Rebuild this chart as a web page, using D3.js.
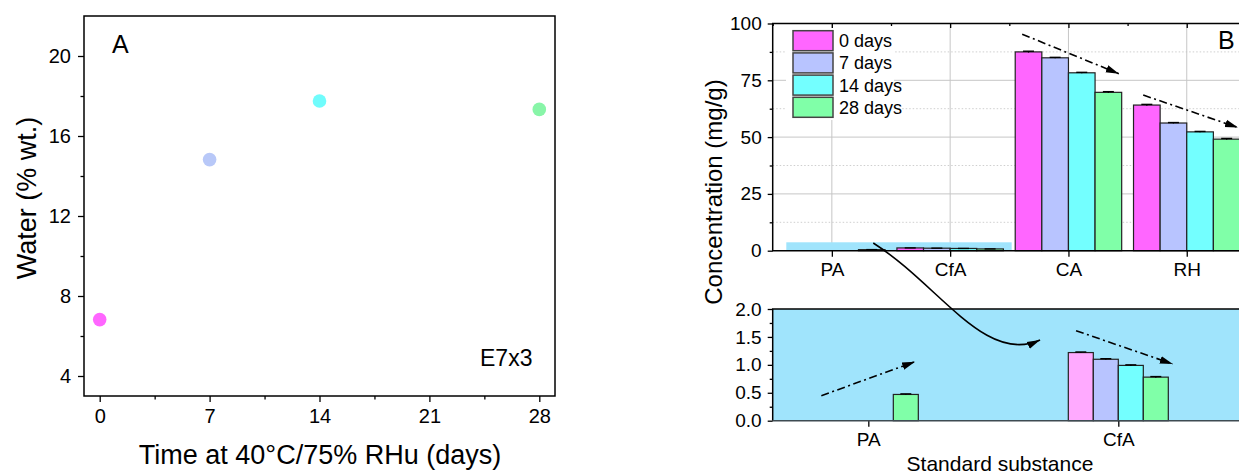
<!DOCTYPE html>
<html>
<head>
<meta charset="utf-8">
<script src="https://cdn.jsdelivr.net/npm/d3@7"></script>
<style>
  body { margin: 0; background: #fff; }
  svg { display: block; font-family: Arial, "Liberation Sans", sans-serif; }
</style>
</head>
<body>
<div id="chart"></div>
<script>
// panel A data
const days = [0, 7, 14, 28];
const water = [6.82, 14.82, 17.75, 17.33];
const dayColors = ["#ff66ff", "#b8c8f8", "#70fcfc", "#88f5a8"];

// panel B data
const substances = ["PA", "CfA", "CA", "RH"];
const seriesNames = ["0 days", "7 days", "14 days", "28 days"];
const conc0 = [null, 1.22, 87.5, 64.1];
const conc7 = [null, 1.10, 84.9, 56.2];
const conc14 = [null, 0.99, 78.3, 52.3];
const conc28 = [0.47, 0.78, 69.7, 49.1];
const err0 = [0, 0.01, 0.3, 0.3];
const err7 = [0, 0.01, 0.2, 0.2];
const err14 = [0, 0.01, 0.2, 0.2];
const err28 = [0.01, 0.01, 0.3, 0.3];
const barColors = ["#ff66ff", "#b8c4ff", "#73ffff", "#80ffa8"];
const insetColors = ["#ffaaff", "#b8c4ff", "#73ffff", "#80ffa8"];
const insetSubstances = ["PA", "CfA"];

const width = 1239;
const height = 475;

const svg = d3
  .select("#chart")
  .append("svg")
  .attr("width", width)
  .attr("height", height);

const defs = svg.append("defs");
defs
  .append("marker")
  .attr("id", "head")
  .attr("viewBox", "0 -5 14 10")
  .attr("refX", 13)
  .attr("refY", 0)
  .attr("markerUnits", "userSpaceOnUse")
  .attr("markerWidth", 14)
  .attr("markerHeight", 10)
  .attr("orient", "auto")
  .append("path")
  .attr("d", "M0,-3.8L13,0L0,3.8Z")
  .attr("fill", "#000");

const styleAxis = (g, size) => {
  g.selectAll("line").attr("stroke", "#000").attr("stroke-width", 1.3);
  g.selectAll("text").attr("fill", "#000").style("font-size", size + "px");
  g.select(".domain").remove();
};

/////////////
// Panel A //
/////////////
const xA = d3.scaleLinear().domain([-1, 29]).range([84, 555]);
const yA = d3.scaleLinear().domain([3, 22]).range([396, 16]);

const gA = svg.append("g");

gA.append("g")
  .attr("transform", "translate(0,396)")
  .call(d3.axisBottom(xA).tickValues([0, 7, 14, 21, 28]).tickSize(6).tickPadding(7))
  .call((g) => styleAxis(g, 20));
gA.append("g")
  .attr("transform", "translate(0,396)")
  .call(d3.axisBottom(xA).tickValues([3.5, 10.5, 17.5, 24.5]).tickSize(3.5).tickFormat(""))
  .call((g) => styleAxis(g, 20));
gA.append("g")
  .attr("transform", "translate(84,0)")
  .call(d3.axisLeft(yA).tickValues([4, 8, 12, 16, 20]).tickSize(6).tickPadding(7))
  .call((g) => styleAxis(g, 20));
gA.append("g")
  .attr("transform", "translate(84,0)")
  .call(d3.axisLeft(yA).tickValues([6, 10, 14, 18]).tickSize(3.5).tickFormat(""))
  .call((g) => styleAxis(g, 20));

gA.append("rect")
  .attr("x", xA(-1))
  .attr("y", yA(22))
  .attr("width", xA(29) - xA(-1))
  .attr("height", yA(3) - yA(22))
  .attr("fill", "none")
  .attr("stroke", "#000")
  .attr("stroke-width", 1.5);

gA.selectAll("circle")
  .data(days)
  .join("circle")
  .attr("cx", (d) => xA(d))
  .attr("cy", (d, i) => yA(water[i]))
  .attr("r", 6.8)
  .attr("fill", (d, i) => dayColors[i]);

gA.append("text").attr("x", 112).attr("y", 53).style("font-size", "25px").text("A");
gA.append("text").attr("x", 480).attr("y", 366).style("font-size", "23px").text("E7x3");
gA.append("text")
  .attr("x", 320)
  .attr("y", 464)
  .attr("text-anchor", "middle")
  .style("font-size", "27px")
  .text("Time at 40°C/75% RHu (days)");
gA.append("text")
  .attr("transform", "translate(36,198) rotate(-90)")
  .attr("text-anchor", "middle")
  .style("font-size", "27px")
  .text("Water (% wt.)");

/////////////////
// Panel B top //
/////////////////
const xT = d3.scaleLinear().domain([-0.5, 3.5]).range([772.7, 1245.9]);
const yT = d3.scaleLinear().domain([0, 100]).range([250.7, 23.5]);

const gT = svg.append("g");

// grid
gT.append("g")
  .selectAll("line")
  .data([25, 50, 75])
  .join("line")
  .attr("x1", xT(-0.5)).attr("x2", xT(3.5))
  .attr("y1", (d) => yT(d)).attr("y2", (d) => yT(d))
  .attr("stroke", "#c6c6c6");
gT.append("g")
  .selectAll("line")
  .data([12.5, 37.5, 62.5, 87.5])
  .join("line")
  .attr("x1", xT(-0.5)).attr("x2", xT(3.5))
  .attr("y1", (d) => yT(d)).attr("y2", (d) => yT(d))
  .attr("stroke", "#cfcfcf")
  .attr("stroke-dasharray", "1.5,2");
gT.append("g")
  .selectAll("line")
  .data([0, 1, 2, 3])
  .join("line")
  .attr("x1", (d) => xT(d)).attr("x2", (d) => xT(d))
  .attr("y1", yT(0)).attr("y2", yT(100))
  .attr("stroke", "#c6c6c6");

// zoomed region
gT.append("rect")
  .attr("x", xT(-0.385))
  .attr("y", yT(3.7))
  .attr("width", xT(1.52) - xT(-0.385))
  .attr("height", yT(0) - yT(3.7))
  .attr("fill", "#a0e4fc");

const series = [conc0, conc7, conc14, conc28];
const errs = [err0, err7, err14, err28];

const drawBars = (g, xs, ys, cats, colors, barW) => {
  series.forEach((vals, s) => {
    const rows = cats
      .map((c) => substances.indexOf(c))
      .map((k, i) => ({ i, v: vals[k], e: errs[s][k] }))
      .filter((d) => d.v != null);
    const bx = (d) => xs(d.i + (s - 2) * barW);
    g.append("g")
      .selectAll("rect")
      .data(rows)
      .join("rect")
      .attr("x", bx)
      .attr("y", (d) => ys(d.v))
      .attr("width", (d) => xs(d.i + barW) - xs(d.i))
      .attr("height", (d) => ys(0) - ys(d.v))
      .attr("fill", colors[s])
      .attr("stroke", "#222")
      .attr("stroke-width", 1.2);
    const cap = g.append("g").selectAll("g").data(rows).join("g");
    const cx = (d) => xs(d.i + (s - 1.5) * barW);
    cap.append("line")
      .attr("x1", (d) => cx(d) - 5.5).attr("x2", (d) => cx(d) + 5.5)
      .attr("y1", (d) => ys(d.v + d.e)).attr("y2", (d) => ys(d.v + d.e))
      .attr("stroke", "#000").attr("stroke-width", 1.4);
    cap.append("line")
      .attr("x1", cx).attr("x2", cx)
      .attr("y1", (d) => ys(d.v + d.e)).attr("y2", (d) => ys(d.v - d.e))
      .attr("stroke", "#000").attr("stroke-width", 1.2);
  });
};

drawBars(gT, xT, yT, substances, barColors, 0.225);

// legend
const legend = gT.append("g");
legend.append("rect")
  .attr("x", 786).attr("y", 28).attr("width", 108).attr("height", 92)
  .attr("fill", "#fff");
const li = legend.selectAll("g.item").data(seriesNames).join("g")
  .attr("class", "item")
  .attr("transform", (d, i) => `translate(793,${30.7 + i * 22.2})`);
li.append("rect")
  .attr("width", 40).attr("height", 20)
  .attr("fill", (d, i) => barColors[i])
  .attr("stroke", "#444").attr("stroke-width", 1.5);
li.append("text")
  .attr("x", 46).attr("y", 16.5)
  .style("font-size", "18px")
  .text((d) => d);

// axes
gT.append("g")
  .attr("transform", `translate(0,${yT(0)})`)
  .call(d3.axisBottom(xT).tickValues([0, 1, 2, 3]).tickFormat((i) => substances[i]).tickSize(6).tickPadding(6))
  .call((g) => styleAxis(g, 19));
gT.append("g")
  .attr("transform", `translate(0,${yT(100)})`)
  .call(d3.axisTop(xT).tickValues([0, 1, 2, 3]).tickSize(-4.5).tickFormat(""))
  .call((g) => styleAxis(g, 19));
gT.append("g")
  .attr("transform", `translate(0,${yT(100)})`)
  .call(d3.axisTop(xT).tickValues([-0.5, 0.5, 1.5, 2.5]).tickSize(-2.5).tickFormat(""))
  .call((g) => styleAxis(g, 19));
gT.append("g")
  .attr("transform", `translate(${xT(-0.5)},0)`)
  .call(d3.axisLeft(yT).tickValues([0, 25, 50, 75, 100]).tickSize(5).tickPadding(6))
  .call((g) => styleAxis(g, 19));
gT.append("g")
  .attr("transform", `translate(${xT(-0.5)},0)`)
  .call(d3.axisLeft(yT).tickValues([12.5, 37.5, 62.5, 87.5]).tickSize(3).tickFormat(""))
  .call((g) => styleAxis(g, 19));
gT.append("path")
  .attr("d", `M${xT(3.5)},${yT(100)}H${xT(-0.5)}V${yT(0)}H${xT(3.5)}`)
  .attr("fill", "none").attr("stroke", "#000").attr("stroke-width", 1.5);

gT.append("text").attr("x", 1218).attr("y", 49).style("font-size", "25px").text("B");

////////////////////
// Panel B bottom //
////////////////////
const xB = d3.scaleLinear().domain([-0.3825, 1.5]).range([772.7, 1243.3]);
const yB = d3.scaleLinear().domain([0, 2]).range([420.7, 309]);

const gB = svg.append("g");
gB.append("rect")
  .attr("x", xB(-0.3825)).attr("y", yB(2))
  .attr("width", xB(1.5) - xB(-0.3825)).attr("height", yB(0) - yB(2))
  .attr("fill", "#a0e4fc");

drawBars(gB, xB, yB, insetSubstances, insetColors, 0.1);

gB.append("g")
  .attr("transform", `translate(0,${yB(0)})`)
  .call(d3.axisBottom(xB).tickValues([0, 1]).tickFormat((i) => insetSubstances[i]).tickSize(6).tickPadding(6))
  .call((g) => styleAxis(g, 19));
gB.append("g")
  .attr("transform", `translate(${xB(-0.3825)},0)`)
  .call(d3.axisLeft(yB).tickValues([0, 0.5, 1, 1.5, 2]).tickFormat(d3.format(".1f")).tickSize(5).tickPadding(6))
  .call((g) => styleAxis(g, 19));
gB.append("g")
  .attr("transform", `translate(${xB(-0.3825)},0)`)
  .call(d3.axisLeft(yB).tickValues([0.25, 0.75, 1.25, 1.75]).tickSize(3).tickFormat(""))
  .call((g) => styleAxis(g, 19));
gB.append("path")
  .attr("d", `M${xB(1.5)},${yB(2)}H${xB(-0.3825)}V${yB(0)}`)
  .attr("fill", "none").attr("stroke", "#000").attr("stroke-width", 1.5);
gB.append("line")
  .attr("x1", xB(-0.3825)).attr("x2", xB(1.5))
  .attr("y1", yB(0)).attr("y2", yB(0))
  .attr("stroke", "#3e4b52").attr("stroke-width", 1.6);

gB.append("text")
  .attr("x", 1000).attr("y", 471)
  .attr("text-anchor", "middle")
  .style("font-size", "21px")
  .text("Standard substance");
svg.append("text")
  .attr("transform", "translate(722,192) rotate(-90)")
  .attr("text-anchor", "middle")
  .style("font-size", "24px")
  .text("Concentration (mg/g)");

// trend arrows
const dashArrow = (xs, ys, a) => {
  svg.append("line")
    .attr("x1", xs(a[0])).attr("y1", ys(a[1]))
    .attr("x2", xs(a[2])).attr("y2", ys(a[3]))
    .attr("stroke", "#000")
    .attr("stroke-width", 1.6)
    .attr("stroke-dasharray", "8,3.5,2,3.5")
    .attr("marker-end", "url(#head)");
};
dashArrow(xT, yT, [1.609, 95.3, 2.426, 77.9]);
dashArrow(xT, yT, [2.632, 68.5, 3.433, 54.2]);
dashArrow(xB, yB, [-0.188, 0.448, 0.187, 1.057]);
dashArrow(xB, yB, [0.831, 1.611, 1.218, 1.015]);

// curved link from the highlighted region to the inset
const s0 = [xT(0.35), yT(3.4)];
const e0 = [xB(0.687), yB(1.445)];
const p = d3.path();
p.moveTo(s0[0], s0[1]);
p.bezierCurveTo(s0[0] + 66, s0[1] + 42, e0[0] - 55, e0[1] + 25, e0[0], e0[1]);
svg.append("path")
  .attr("d", p.toString())
  .attr("fill", "none")
  .attr("stroke", "#000")
  .attr("stroke-width", 1.6)
  .attr("marker-end", "url(#head)");
</script>
</body>
</html>
